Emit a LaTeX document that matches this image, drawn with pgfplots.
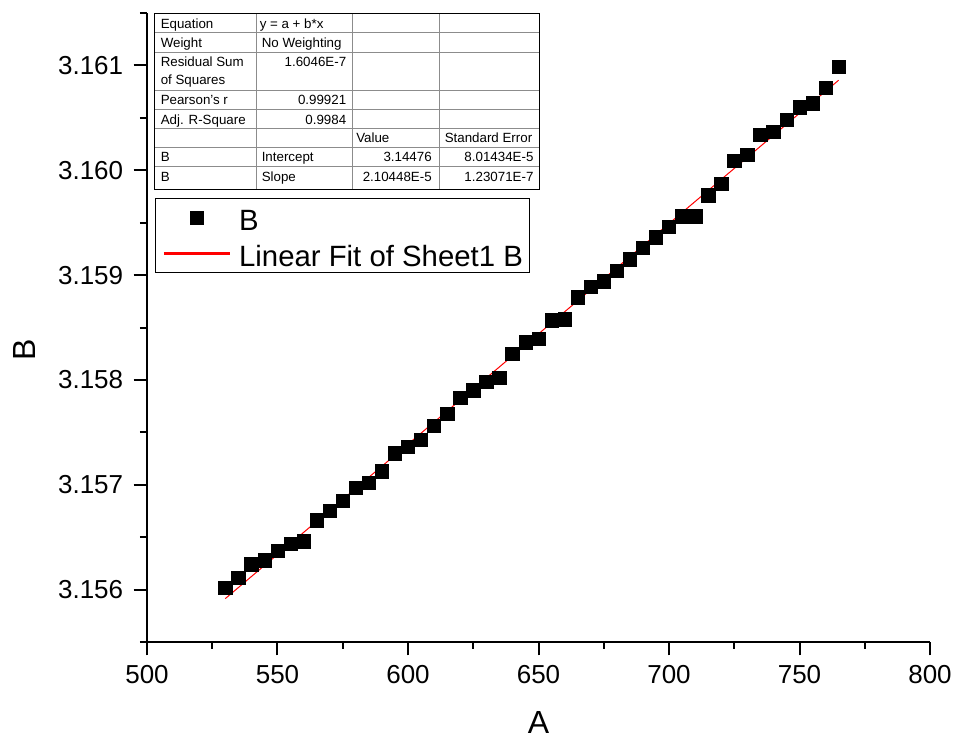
\documentclass[border=0pt]{standalone}
\usepackage{pgfplots}
\pgfplotsset{compat=1.18}
\usepackage{fontspec}
\setmainfont{Liberation Sans}

\pgfplotsset{
  sq legend/.style={legend image code/.code={\draw[mark repeat=2,mark phase=2,##1]
    plot coordinates {(0pt,0pt) (24.75pt,0pt) (49.5pt,0pt)};}},
  fit legend/.style={legend image code/.code={\draw[draw=red, line width=2pt] (0pt,0pt) -- (49.5pt,0pt);}},
}

\begin{document}
\begin{tikzpicture}
\begin{axis}[
  scale only axis,
  width=587.25pt, height=471.75pt,
  xmin=500, xmax=800, ymin=3.1555, ymax=3.1615,
  axis x line*=bottom, axis y line*=left,
  axis line style={line width=1.5pt, -},
  tick align=outside,
  major tick length=10pt, minor tick length=5.25pt,
  tick style={black, line width=1.5pt},
  xtick={500,550,...,800}, minor xtick={525,575,...,775},
  ytick={3.156,3.157,3.158,3.159,3.160,3.161},
  minor ytick={3.1555,3.1565,3.1575,3.1585,3.1595,3.1605,3.1615},
  scaled y ticks=false,
  /pgf/number format/assume math mode=true,
  yticklabel style={/pgf/number format/.cd, fixed, fixed zerofill, precision=3},
  ticklabel style={font=\fontsize{19.5}{22}\selectfont, inner sep=0pt},
  xticklabel shift=7.5pt, yticklabel shift=7.7pt,
  xlabel={A}, ylabel={B},
  label style={font=\fontsize{24}{28}\selectfont},
  xlabel style={at={(axis description cs:0.5,-0.1272)}, anchor=center},
  ylabel style={at={(axis description cs:-0.1567,0.4642)}, anchor=center},
  legend style={at={(axis description cs:0.0106,0.7054)}, anchor=north west,
    draw=black, line width=0.75pt, font=\fontsize{22}{25}\selectfont,
    inner xsep=5pt, inner ysep=3pt,
    nodes={inner sep=0pt, text height=20.4pt, text depth=1.6pt},
    row sep=5pt,
    /tikz/every odd column/.append style={column sep=6pt}},
  legend cell align=left,
  clip=false,
]
% measured points
\addplot[only marks, mark=square*, mark size=5pt,
  mark options={fill=black, draw=black, line width=0.4pt}, sq legend]
  table {
x y
530 3.15602
535 3.15611
540 3.15624
545 3.15628
550 3.15637
555 3.15644
560 3.15646
565 3.15666
570 3.15675
575 3.15685
580 3.15697
585 3.15702
590 3.15713
595 3.15730
600 3.15736
605 3.15743
610 3.15756
615 3.15768
620 3.15783
625 3.15790
630 3.15798
635 3.15802
640 3.15825
645 3.15836
650 3.15839
655 3.15857
660 3.15858
665 3.15879
670 3.15889
675 3.15894
680 3.15904
685 3.15915
690 3.15926
695 3.15936
700 3.15946
705 3.15956
710 3.15956
715 3.15976
720 3.15987
725 3.16009
730 3.16015
735 3.16034
740 3.16037
745 3.16048
750 3.16060
755 3.16064
760 3.16079
765 3.16099
};
\addlegendentry{B}
% least-squares line y = 3.14476 + 2.10448E-5 x
\addplot[red, line width=0.75pt, fit legend]
  coordinates {(530,3.155914) (765,3.160859)};
\addlegendentry{Linear Fit of Sheet1 B}
\end{axis}

% fit report table (pixel grid, origin at top left)
\begin{scope}[x=0.75pt, y=-0.75pt, shift={(-147,-642)}]
  \def\ca{154.3}\def\cb{256.3}\def\cc{352.7}\def\cd{439}\def\ce{539.7}
  \begin{scope}[draw=black!45, line width=0.6pt]
    \foreach \r in {32.7,52,90,109.3,128,147,166.7}
      \draw (\ca,\r) -- (\ce,\r);
    \foreach \c in {\cb,\cc,\cd}
      \draw (\c,13.3) -- (\c,189.3);
  \end{scope}
  \draw[black, line width=1.1pt] (\ca,13.3) rectangle (\ce,189.3);
  \begin{scope}[every node/.style={inner sep=0pt, font=\fontsize{10}{12}\selectfont}]
    % left column
    \node[anchor=base west] at (160.5,28.3) {Equation};
    \node[anchor=base west] at (160.5,47.7) {Weight};
    \node[anchor=base west] at (160.5,67) {Residual Sum};
    \node[anchor=base west] at (160.5,84.3) {of Squares};
    \node[anchor=base west] at (160.5,105) {Pearson's r};
    \node[anchor=base west] at (160.5,124.3) {Adj. R-Square};
    \node[anchor=base west] at (160.5,162) {B};
    \node[anchor=base west] at (160.5,181.7) {B};
    % second column
    \node[anchor=base west] at (259.5,28.3) {y = a + b*x};
    \node[anchor=base west] at (261.5,47.7) {No Weighting};
    \node[anchor=base east] at (346.5,67) {1.6046E-7};
    \node[anchor=base east] at (346.5,105) {0.99921};
    \node[anchor=base east] at (346.5,124.3) {0.9984};
    \node[anchor=base west] at (261.5,162) {Intercept};
    \node[anchor=base west] at (261.5,181.7) {Slope};
    % third column
    \node[anchor=base west] at (356,143) {Value};
    \node[anchor=base east] at (432,162) {3.14476};
    \node[anchor=base east] at (432,181.7) {2.10448E-5};
    % fourth column
    \node[anchor=base west] at (444.5,143) {Standard Error};
    \node[anchor=base east] at (533.7,162) {8.01434E-5};
    \node[anchor=base east] at (533.7,181.7) {1.23071E-7};
  \end{scope}
  \pgfresetboundingbox
  \path (0,0) rectangle (957,740);
\end{scope}
\end{tikzpicture}
\end{document}
